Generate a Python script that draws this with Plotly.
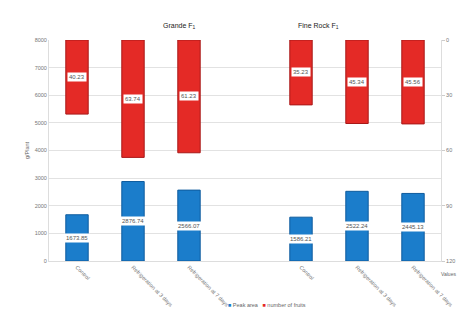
import plotly.graph_objects as go

categories = ["Control", "Refrigeration at 3 days", "Refrigeration at 7 days", "",
              "Control", "Refrigeration at 3 days", "Refrigeration at 7 days"]
peak_area = [1673.85, 2876.74, 2566.07, None, 1586.21, 2522.24, 2445.13]
n_fruits = [40.23, 63.74, 61.23, None, 35.23, 45.34, 45.56]
group_titles = ["Grande F<sub>1</sub>", "Fine Rock F<sub>1</sub>"]
left_ticks = [0, 1000, 2000, 3000, 4000, 5000, 6000, 7000, 8000]
right_ticks = [0, 30, 60, 90, 120]
legend_names = ["Peak area", "number of fruits"]
colors = ["#1b7dcb", "#e42a26"]

xpos = list(range(len(categories)))

fig = go.Figure()
fig.add_trace(go.Bar(x=xpos, y=peak_area, name=legend_names[0],
                     marker=dict(color=colors[0], line=dict(color="#0f5c9e", width=1)),
                     yaxis="y", showlegend=False))
fig.add_trace(go.Bar(x=xpos, y=n_fruits, name=legend_names[1],
                     marker=dict(color=colors[1], line=dict(color="#a81818", width=1)),
                     yaxis="y2", showlegend=False))

ann = []
for xp, v in zip(xpos, peak_area):
    if v is not None:
        ann.append(dict(x=xp, y=v / 2, xref="x", yref="y", text=f"{v:.2f}",
                        showarrow=False, bgcolor="white", borderpad=1,
                        font=dict(size=6, color="#555")))
for xp, v in zip(xpos, n_fruits):
    if v is not None:
        ann.append(dict(x=xp, y=v / 2, xref="x", yref="y2", text=f"{v:.2f}",
                        showarrow=False, bgcolor="white", borderpad=1,
                        font=dict(size=6, color="#555")))
for t, xp in zip(group_titles, [0.286, 0.744]):
    ann.append(dict(x=xp, y=1.09, xref="paper", yref="paper", text=t, showarrow=False,
                    font=dict(size=7, color="#222")))
ann.append(dict(x=1.018, y=-0.035, xref="paper", yref="paper", text="Values",
                showarrow=False, xanchor="center", yanchor="top",
                font=dict(size=5, color="#666")))
legend_text = "   ".join(
    f"<span style='color:{c}'>■</span> {n}" for c, n in zip(colors, legend_names))
ann.append(dict(x=0.555, y=-0.2, xref="paper", yref="paper", text=legend_text,
                showarrow=False, xanchor="center", yanchor="middle",
                font=dict(size=5.5, color="#666")))

fig.update_layout(
    width=467, height=320,
    margin=dict(l=49, r=20, t=40, b=58),
    paper_bgcolor="white", plot_bgcolor="white",
    barmode="overlay", bargap=0.6,
    font=dict(family="Liberation Sans, Arial", size=6, color="#666"),
    xaxis=dict(range=[-0.5, len(categories) - 0.5],
               tickvals=xpos, ticktext=categories, tickangle=45,
               tickfont=dict(size=5.5, color="#777"), showgrid=False,
               showline=True, linecolor="#ddd", ticks="", zeroline=False),
    yaxis=dict(range=[0, 8000], tickvals=left_ticks, showgrid=True,
               gridcolor="#e2e2e2", gridwidth=1, zeroline=False,
               showline=True, linecolor="#ddd", tickfont=dict(size=5.5, color="#777"),
               title=dict(text="g/Plant", font=dict(size=5.5, color="#666"), standoff=4)),
    yaxis2=dict(overlaying="y", side="right", range=[120, 0], tickvals=right_ticks,
                showgrid=False, zeroline=False, showline=True, linecolor="#ddd",
                ticks="outside", ticklen=3, tickcolor="#ccc",
                tickfont=dict(size=5.5, color="#777")),
    annotations=ann,
)

fig.write_html("out.html")
